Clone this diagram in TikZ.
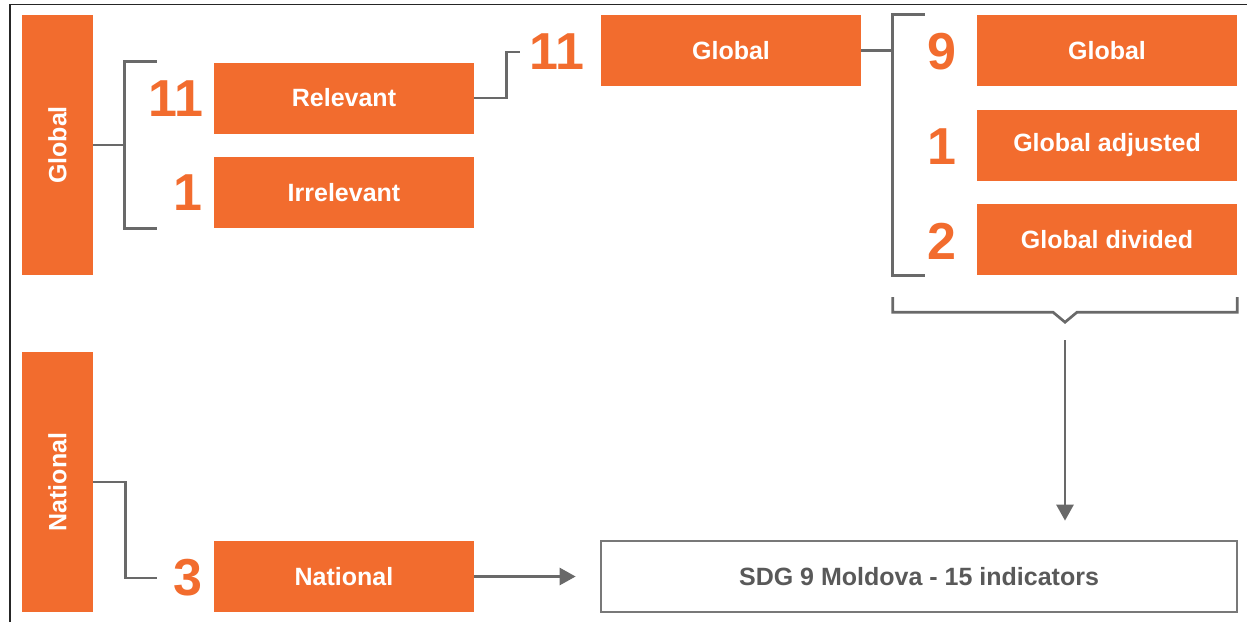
\documentclass[tikz,border=0pt]{standalone}
\usepackage{fontspec}
\setmainfont{Liberation Sans}
\usetikzlibrary{calc,arrows.meta}
\definecolor{sdgorange}{RGB}{242,108,46}
\definecolor{lineg}{RGB}{105,105,105}
\tikzset{
  obox/.style = {fill = sdgorange, text = white, font = \bfseries\fontsize{25}{30}\selectfont,
                 minimum width = 260, minimum height = 71, inner sep = 0},
  vbox/.style = {obox, minimum width = 71, minimum height = 260},
  num/.style = {text = sdgorange, font = \bfseries\fontsize{52}{60}\selectfont, inner sep = 0},
  conn/.style = {draw = lineg, line width = 2.7},
  arr/.style = {conn, -{Triangle[length=16,width=17]}}
}
\begin{document}
\begin{tikzpicture}[x = 1pt, y = -1pt]
    \useasboundingbox (0,0) rectangle (1247,622);
    % frame
    \draw[line width = 1.8, black!85] (10,622) -- (10,4.5) -- (1247,4.5);
    % left column
    \node[vbox] (globV) at (57.5,145) {\rotatebox{90}{Global}};
    \node[vbox] (natV) at (57.5,482) {\rotatebox{90}{National}};
    % middle boxes
    \node[obox] (rel) at (344,98) {\raisebox{-2pt}{Relevant}};
    \node[obox] (irr) at (344,192.5) {\raisebox{-2pt}{Irrelevant}};
    \node[obox] (nat) at (344,576.5) {\raisebox{-2pt}{National}};
    \node[obox] (glob) at (731,50.5) {\raisebox{-2pt}{Global}};
    % right boxes
    \node[obox] (g9) at (1107,50.5) {\raisebox{-2pt}{Global}};
    \node[obox] (gadj) at (1107,145.5) {\raisebox{-2pt}{Global adjusted}};
    \node[obox] (gdiv) at (1107,239.5) {\raisebox{-2pt}{Global divided}};
    \node[draw = lineg!90, line width = 2.7, minimum width = 636, minimum height = 71, inner sep = 0,
          text = lineg!85!black, font = \bfseries\fontsize{25}{30}\selectfont] (sdg) at (919,576.5) {\raisebox{-2pt}{SDG 9 Moldova - 15 indicators}};
    % numbers
    \node[num] (n11a) at (176,99) {11};
    \node[num] (n1a) at (188,193) {1};
    \node[num] (n3) at (188,578) {3};
    \node[num] (n11b) at (557,52) {11};
    \node[num] (n9) at (942,52) {9};
    \node[num] (n1b) at (942,147) {1};
    \node[num] (n2) at (942,241) {2};
    % brackets
    \draw[conn] (globV.east) -- ++(32,0);
    \draw[conn] ($(rel.north west)+(-57,-1)$) -| ($(irr.south west)+(-89,0)$) -- ($(irr.south west)+(-57,0)$);
    \draw[conn] (rel.east) -- ++(32,0) |- ($(glob.west)+(-81,1.5)$);
    \draw[conn] (glob.east) -- ++(32,0);
    \draw[conn] ($(g9.north west)+(-52,0)$) -| ($(gdiv.south west)+(-84,0)$) -- ($(gdiv.south west)+(-52,0)$);
    \coordinate (brtip) at ($(gdiv.south west)!0.5!(gdiv.south east)+(-42,47)$);
    \draw[conn] ($(gdiv.south west)+(-84,22)$) -- ($(gdiv.south west)+(-84,37)$)
        -- ($(brtip)+(-12,-10)$) -- (brtip) -- ($(brtip)+(12,-10)$)
        -- ($(gdiv.south east)+(0,37)$) -- ($(gdiv.south east)+(0,22)$);
    \draw[conn] (natV.east) -- ++(32,0) |- ($(nat.west)+(-57,1.5)$);
    % arrows
    \draw[arr] ($(brtip)+(0,18)$) -- ($(brtip |- sdg.north)+(0,-19)$);
    \draw[arr] (nat.east) -- ($(sdg.west)+(-24,0)$);
\end{tikzpicture}
\end{document}
